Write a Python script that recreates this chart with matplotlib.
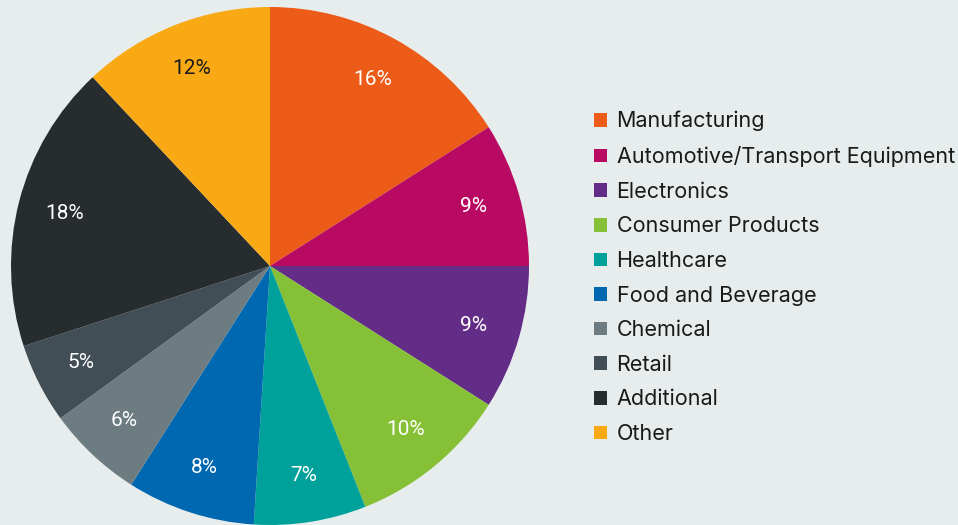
import matplotlib
matplotlib.use("Agg")
import matplotlib.pyplot as plt
from matplotlib.patches import Patch

# data
sectors = ["Manufacturing", "Automotive/Transport Equipment", "Electronics",
           "Consumer Products", "Healthcare", "Food and Beverage", "Chemical",
           "Retail", "Additional", "Other"]
shares = [16, 9, 9, 10, 7, 8, 6, 5, 18, 12]
colors = ["#EC5B17", "#B80A62", "#632C86", "#86C036", "#00A19A",
          "#0068B0", "#6C7C81", "#424E55", "#272C2F", "#F8A913"]
label_colors = ["white"] * 9 + ["#1a1a1a"]

bg = "#E7EDED"
W, H = 958, 525

fig = plt.figure(figsize=(W / 100, H / 100), dpi=100, facecolor=bg)

# pie axes: centre at (270, 266) px, radius ~259 px
ax = fig.add_axes([11 / W, 0, 518 / W, 518 / H])
ax.set_facecolor(bg)

wedges, texts, autotexts = ax.pie(
    shares, colors=colors, startangle=90, counterclock=False,
    autopct="%d%%", pctdistance=0.82, radius=1.0,
    wedgeprops=dict(linewidth=0),
    textprops=dict(fontsize=15, fontweight="normal",
                   family=["Roboto", "DejaVu Sans"]),
)
for t, c in zip(autotexts, label_colors):
    t.set_color(c)

ax.set_xlim(-1, 1)
ax.set_ylim(-1, 1)
ax.set_aspect("equal")
ax.axis("off")

handles = [Patch(facecolor=c, edgecolor="none") for c in colors]
leg = fig.legend(handles, sectors, loc="center left",
                 bbox_to_anchor=(594 / W, 1 - 277.5 / H),
                 frameon=False, handlelength=0.6, handleheight=0.6,
                 handletextpad=0.45, labelspacing=0.68, borderpad=0,
                 borderaxespad=0,
                 prop=dict(family=["Inter", "DejaVu Sans"], size=15.5))
for txt in leg.get_texts():
    txt.set_color("#1a1a1a")

fig.savefig("out.png", dpi=100, facecolor=bg)
